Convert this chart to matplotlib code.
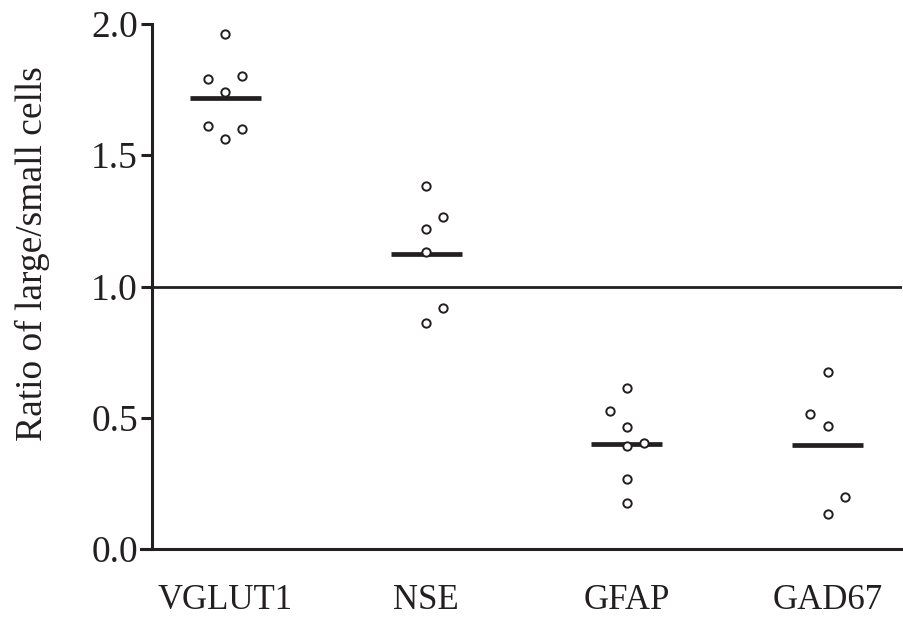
import matplotlib
matplotlib.use("Agg")
import matplotlib.pyplot as plt

# === 資料 ===
categories = ["VGLUT1", "NSE", "GFAP", "GAD67"]
vglut1 = [1.962, 1.789, 1.801, 1.740, 1.613, 1.601, 1.563]
nse = [1.383, 1.264, 1.219, 1.130, 0.919, 0.860]
gfap = [0.612, 0.525, 0.464, 0.392, 0.405, 0.267, 0.176]
gad67 = [0.675, 0.514, 0.470, 0.199, 0.134]
means = [1.717, 1.124, 0.400, 0.395]
# scatter column of each point (-1 left, 0 centre, 1 right)
vglut1_col = [0, -1, 1, 0, -1, 1, 0]
nse_col = [0, 1, 0, 0, 1, 0]
gfap_col = [0, -1, 0, 0, 1, 0, 0]
gad67_col = [0, -1, 0, 1, 0]
reference = 1.0

groups = [vglut1, nse, gfap, gad67]
cols = [vglut1_col, nse_col, gfap_col, gad67_col]

plt.rcParams["font.family"] = ["Liberation Serif", "DejaVu Serif"]

fig = plt.figure(figsize=(9.04, 6.22), dpi=100)
ax = fig.add_axes([141 / 904, 73 / 622, 761 / 904, 525 / 622])

step = 0.085
half_bar = 0.177
for i, (vals, cc) in enumerate(zip(groups, cols)):
    xs = [i + c * step for c in cc]
    ax.plot([i - half_bar, i + half_bar], [means[i], means[i]], color="#231f20",
            lw=3.4, solid_capstyle="butt", zorder=2)
    ax.plot(xs, vals, linestyle="none", marker="o", ms=6.0, mfc="white",
            mec="#231f20", mew=1.4, zorder=3, clip_on=False)

xmin, xmax = -0.420, 3.371
spine_x = -0.366
ax.set_xlim(xmin, xmax)
ax.set_ylim(0, 2)
ax.axhline(reference, xmin=(spine_x - xmin) / (xmax - xmin), xmax=1,
           color="#231f20", lw=2.0, zorder=1)

ax.spines["top"].set_visible(False)
ax.spines["right"].set_visible(False)
ax.spines["left"].set_position(("data", spine_x))
ax.spines["left"].set_linewidth(2.2)
ax.spines["bottom"].set_linewidth(2.2)
ax.spines["left"].set_color("#231f20")
ax.spines["bottom"].set_color("#231f20")

ax.set_yticks([0, 0.5, 1.0, 1.5, 2.0])
ax.set_yticklabels(["0.0", "0.5", "1.0", "1.5", "2.0"])
ax.tick_params(axis="y", direction="out", length=8, width=2.2, pad=2,
               labelsize=27, colors="#231f20")
ax.set_xticks(range(len(categories)))
ax.set_xticklabels(categories)
ax.tick_params(axis="x", length=0, pad=25, labelsize=25, colors="#231f20")

fig.text(32 / 904, 1 - 254 / 622, "Ratio of large/small cells", rotation=90,
         ha="center", va="center", fontsize=27, color="#231f20")

fig.savefig("out.png", dpi=100, facecolor="white")
